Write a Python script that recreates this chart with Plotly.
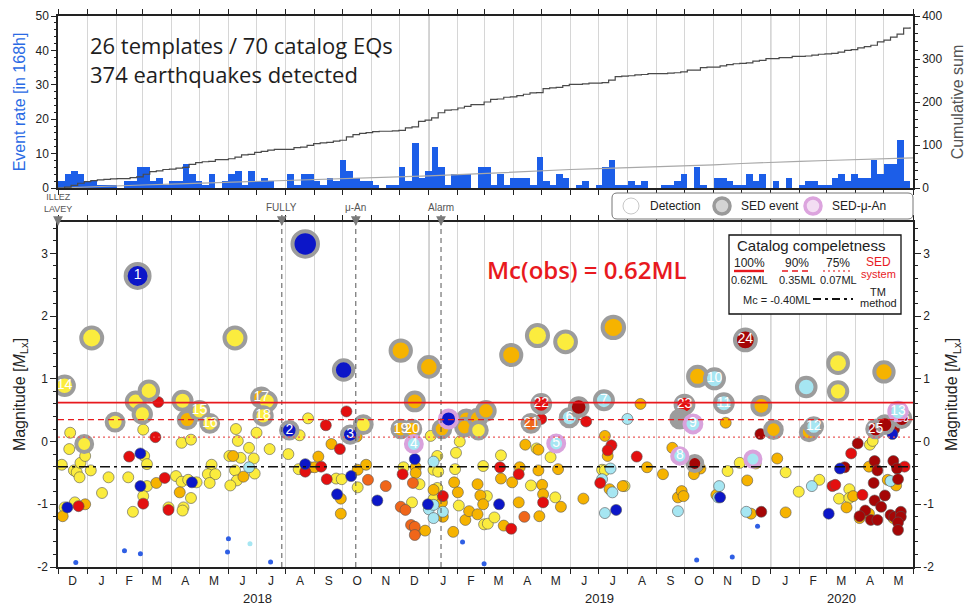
import pandas as pd
import plotly.graph_objects as go

START, END = "2017-12-01", "2020-06-01"

# ---------------------------------------------------------------- data
n_templates = 26

# detections per 168 h bin, bins starting 2017-12-01
weekly_rate = [2, 4, 5, 4, 2, 2, 1, 1, 1, 0,
               2, 2, 6, 6, 2, 3, 1, 2, 2, 7,
               4, 2, 1, 4, 0, 2, 4, 5, 1, 5,
               2, 3, 2, 0, 0, 4, 1, 4, 4, 2,
               1, 3, 2, 8, 5, 3, 2, 2, 1, 0,
               1, 1, 6, 2, 13, 3, 5, 12, 6, 1,
               4, 4, 4, 0, 6, 6, 1, 4, 1, 3,
               3, 3, 1, 9, 2, 1, 4, 3, 0, 1,
               2, 0, 1, 6, 8, 1, 1, 2, 1, 2,
               0, 0, 1, 1, 2, 4, 0, 6, 1, 0,
               3, 3, 2, 1, 1, 4, 2, 4, 0, 2,
               0, 3, 0, 1, 2, 2, 1, 1, 3, 4,
               2, 4, 3, 3, 8, 4, 7, 7, 14, 2]

# cumulative number of catalog earthquakes at each month start (Dec 2017 .. Jun 2020)
catalog_cum = [0, 3, 5, 7, 9, 11, 13, 15, 17, 19, 21, 23, 25,
               28, 31, 34, 37, 40, 43, 45, 47, 49, 51, 54, 57,
               60, 62, 64, 66, 68, 70]

# catalog completeness (SED system) and template-matching Mc
mc_sed = [0.62, 0.35, 0.07]
mc_sed_pct = ["100%", "90%", "75%"]
mc_tm = -0.40

event_names = ["ILLEZ<br>LAVEY", "FULLY", "μ-An", "Alarm"]
event_dates = ["2017-12-01", "2018-07-28", "2018-10-15", "2019-01-14"]

# template-matching detections (date, magnitude), grouped by colour
det_yellow = [
    ("2017-12-14", 0.14), ("2017-12-13", -0.12), ("2017-12-05", -0.37), ("2017-12-18", -0.46),
    ("2017-12-21", -0.49), ("2017-12-24", -0.57), ("2017-12-25", -0.34), ("2017-12-30", -0.23),
    ("2018-01-05", -0.46), ("2017-12-08", -1.05), ("2017-12-19", -0.97), ("2018-01-17", -0.82),
    ("2018-01-24", -0.57), ("2018-02-14", -0.57), ("2018-03-03", -0.23), ("2018-03-06", -0.36),
    ("2018-03-06", -0.71), ("2018-03-02", -0.87), ("2018-02-19", -1.12), ("2018-03-02", 0.19),
    ("2018-03-29", -1.05), ("2018-04-06", -0.55), ("2018-04-12", -0.64), ("2018-04-12", -0.02),
    ("2018-04-22", 0.03), ("2018-04-14", -1.05), ("2018-04-13", -1.10), ("2018-04-22", -0.90),
    ("2018-04-28", -0.65), ("2018-04-19", -0.61), ("2018-05-14", -0.37), ("2018-05-10", -0.52),
    ("2018-05-18", -0.52), ("2018-05-12", -0.66), ("2018-06-09", 0.20), ("2018-06-11", 0.01),
    ("2018-06-02", -0.23), ("2018-06-14", -0.26), ("2018-06-23", -0.10), ("2018-06-28", -0.27),
    ("2018-06-08", -0.46), ("2018-06-10", -0.62), ("2018-06-03", -0.70), ("2018-06-29", -0.51),
    ("2018-07-01", 0.14), ("2018-07-15", -0.12), ("2018-08-04", -0.20), ("2018-08-16", 0.10),
    ("2018-08-25", 0.37), ("2018-08-15", -0.44), ("2018-09-24", -0.59), ("2018-09-30", -0.60),
    ("2018-10-17", -0.73), ("2018-12-05", -0.41), ("2018-12-22", -0.68), ("2018-12-14", -0.97),
    ("2019-01-10", -0.23), ("2019-01-06", -0.45), ("2019-01-11", -0.48), ("2019-01-10", -0.74),
    ("2019-01-06", -0.92), ("2019-01-03", 0.09), ("2019-02-03", 0.00), ("2019-01-30", -0.18),
    ("2019-01-29", -0.44), ("2019-02-02", -1.02), ("2019-03-04", -0.87), ("2019-03-01", -1.32),
    ("2019-03-05", -1.31), ("2019-02-28", -0.39), ("2019-03-19", -0.22), ("2019-03-12", -1.21),
    ("2019-04-20", -0.70), ("2019-04-26", -0.11), ("2019-05-11", -0.25), ("2019-05-16", -0.89),
    ("2019-07-05", -0.45), ("2019-07-08", -0.46), ("2019-07-29", -0.71), ("2019-11-16", -0.47),
    ("2019-11-29", -0.34), ("2019-12-16", -0.35), ("2020-01-17", -0.49), ("2020-01-31", -0.80),
    ("2020-02-22", -0.61), ("2020-03-25", -0.76), ("2020-03-14", -0.91), ("2020-03-25", -0.90),
    ("2020-04-16", -0.05), ("2020-04-19", 0.01),
]
det_orange = [
    ("2017-12-06", -1.19), ("2017-12-30", -1.00), ("2018-03-16", -0.66), ("2018-04-10", -0.81),
    ("2018-06-06", -0.23), ("2018-06-17", -0.56), ("2018-08-27", -0.41), ("2018-09-01", -0.41),
    ("2018-09-05", -0.24), ("2018-09-19", -0.04), ("2018-09-29", -0.91), ("2018-09-29", -1.15),
    ("2018-10-16", 0.08), ("2018-10-17", -0.45), ("2018-10-26", -0.37), ("2018-12-18", -0.41),
    ("2018-12-18", -0.50), ("2018-12-18", -1.45), ("2018-12-28", -1.42), ("2019-01-06", -0.77),
    ("2019-01-15", -0.97), ("2019-01-16", -1.20), ("2019-01-28", -0.65), ("2019-02-01", -0.81),
    ("2019-01-27", -1.44), ("2019-02-09", -1.25), ("2019-02-13", -1.11), ("2019-02-22", -0.68),
    ("2019-02-25", -0.86), ("2019-02-28", -1.00), ("2019-02-22", -1.16), ("2019-03-19", -0.59),
    ("2019-03-31", -0.65), ("2019-03-22", -1.34), ("2019-04-08", -0.41), ("2019-04-07", -0.97),
    ("2019-04-14", -0.05), ("2019-04-28", -0.13), ("2019-04-28", -0.46), ("2019-05-02", -0.69),
    ("2019-05-03", -0.84), ("2019-04-29", -1.19), ("2019-05-19", -0.44), ("2019-05-22", -1.04),
    ("2019-06-15", -0.91), ("2019-07-08", 0.09), ("2019-07-11", -0.23), ("2019-07-13", -0.76),
    ("2019-07-27", -0.71), ("2019-08-15", 0.60), ("2019-08-22", -0.41), ("2019-09-08", -0.52),
    ("2019-09-18", -0.10), ("2019-09-24", -0.89), ("2019-09-28", -0.79), ("2019-09-30", -0.87),
    ("2019-10-18", -0.43), ("2019-10-15", -0.40), ("2019-10-11", -0.52), ("2019-11-14", 0.30),
    ("2019-11-04", -0.85), ("2019-12-07", -0.62), ("2019-12-11", -1.15), ("2020-01-08", -0.27),
    ("2020-01-17", -1.13), ("2020-03-29", -0.87), ("2020-03-22", -1.05), ("2020-04-15", -1.15),
    ("2020-04-05", -1.22), ("2020-04-15", -0.40), ("2020-05-05", -0.61), ("2020-05-14", -0.70),
    ("2020-05-11", -1.22),
]
det_orangered = [
    ("2018-10-28", -0.61), ("2018-11-16", -0.71), ("2018-12-15", -0.66), ("2018-12-02", -1.04),
    ("2018-12-07", -1.09), ("2018-12-13", -1.33), ("2018-12-17", -1.36), ("2018-12-17", -1.49),
    ("2019-04-13", -1.20),
]
det_red = [
    ("2017-12-23", -1.03), ("2018-02-15", -0.24), ("2018-03-02", -0.99), ("2018-03-15", 0.07),
    ("2018-03-18", 0.63), ("2018-03-25", -0.58), ("2018-03-29", -1.09), ("2018-09-13", 0.26),
    ("2018-08-22", -0.48), ("2018-09-08", -0.40), ("2018-09-14", -0.60), ("2018-09-28", -0.12),
    ("2018-10-05", 0.48), ("2018-12-04", -0.52), ("2019-01-16", -0.87), ("2019-03-18", -0.41),
    ("2019-03-30", -1.39), ("2019-04-07", -0.52), ("2019-05-01", 0.36), ("2019-05-03", -0.97),
    ("2019-06-18", 0.32), ("2019-07-15", -0.06), ("2019-07-11", -0.14), ("2019-07-03", -0.66),
    ("2019-08-11", -0.24), ("2020-03-07", -0.71), ("2020-03-10", -0.69), ("2020-03-27", -0.19),
    ("2020-04-08", -0.85), ("2020-05-23", -0.40),
]
det_darkred = [
    ("2019-12-22", -1.12), ("2019-12-21", 0.12), ("2020-03-20", -0.41), ("2020-04-03", -0.03),
    ("2020-04-11", -1.10), ("2020-04-17", -1.25), ("2020-04-24", -1.25), ("2020-04-05", -1.19),
    ("2020-04-21", -0.94), ("2020-04-28", -1.04), ("2020-05-02", -0.86), ("2020-04-21", -0.31),
    ("2020-04-24", -0.46), ("2020-04-20", -0.66), ("2020-05-12", 0.20), ("2020-05-11", -0.31),
    ("2020-05-15", -0.43), ("2020-05-16", -0.60), ("2020-05-08", -1.17), ("2020-05-12", -1.20),
    ("2020-05-19", -1.12), ("2020-05-19", -1.20), ("2020-05-16", -1.29), ("2020-05-16", -1.41),
]
det_blue = [
    ("2017-12-11", -1.05), ("2018-02-27", -0.19), ("2018-02-27", -0.71), ("2018-04-23", -0.65),
    ("2018-08-22", -0.36), ("2018-09-25", -0.84), ("2018-10-10", -0.55), ("2018-11-07", -0.94),
    ("2018-12-17", -0.28), ("2018-12-31", -1.00), ("2019-03-17", -1.00), ("2019-07-20", -1.09),
    ("2019-11-08", -0.89), ("2020-03-03", -1.15), ("2020-03-15", -0.43), ("2020-05-10", 0.12),
]
det_lightblue = [
    ("2018-06-23", -0.41), ("2019-01-06", -0.32), ("2019-01-01", -1.08), ("2019-01-06", -1.01),
    ("2019-01-16", -1.12), ("2019-01-06", -1.22), ("2019-07-14", -0.43), ("2019-07-05", -0.60),
    ("2019-07-16", -0.81), ("2019-07-08", -1.14), ("2019-08-01", 0.36), ("2019-09-24", -1.11),
    ("2019-11-07", -0.71), ("2019-11-06", -0.89), ("2019-12-06", -1.12), ("2020-02-14", -0.71),
    ("2020-05-08", -0.63),
]
det_small = [
    ("2017-12-20", -1.93), ("2018-02-10", -1.74), ("2018-02-27", -1.79), ("2018-06-01", -1.55),
    ("2018-05-31", -1.76), ("2018-07-16", -1.92), ("2019-02-06", -1.60), ("2019-03-01", -1.95),
    ("2019-10-14", -1.89), ("2019-11-21", -1.84), ("2019-12-18", -1.35),
]
det_small_lightblue = [("2018-06-24", -1.63)]

# catalog (SED) events used as templates / detected: (date, magnitude, colour, template id)
sed_events = [
    ("2017-12-08", 0.89, "yellow", "14"), ("2018-01-06", 1.65, "yellow", ""),
    ("2017-12-29", -0.04, "yellow", ""), ("2018-01-31", 0.31, "yellow", ""),
    ("2018-02-24", 2.64, "blue", "1"), ("2018-02-22", 0.64, "yellow", ""),
    ("2018-03-01", 0.44, "yellow", ""), ("2018-03-08", 0.81, "yellow", ""),
    ("2018-04-13", 0.65, "yellow", ""), ("2018-04-18", 0.35, "orange", ""),
    ("2018-05-01", 0.49, "yellow", "15"), ("2018-05-12", 0.29, "yellow", "16"),
    ("2018-06-08", 1.65, "yellow", ""), ("2018-07-06", 0.70, "orange", "17"),
    ("2018-07-12", 0.64, "yellow", ""), ("2018-07-08", 0.41, "yellow", "18"),
    ("2018-08-05", 0.18, "blue", "2"), ("2018-08-22", 3.15, "blue", ""),
    ("2018-10-02", 1.14, "blue", ""), ("2018-10-23", 0.27, "yellow", ""),
    ("2018-10-09", 0.11, "blue", "3"), ("2018-12-02", 1.45, "orange", ""),
    ("2019-01-01", 1.19, "orange", ""), ("2018-12-17", 0.64, "orange", ""),
    ("2018-12-02", 0.20, "orange", "19"), ("2018-12-14", 0.20, "orange", "20"),
    ("2019-01-15", 0.20, "orange", ""), ("2019-02-10", 0.36, "orange", ""),
    ("2019-02-08", 0.23, "orange", ""), ("2019-02-22", 0.37, "orange", ""),
    ("2019-03-03", 0.49, "orange", ""), ("2019-02-23", 0.18, "yellow", ""),
    ("2019-03-30", 1.38, "orange", ""), ("2019-04-27", 1.69, "yellow", ""),
    ("2019-05-27", 1.59, "yellow", ""), ("2019-07-17", 1.82, "orange", ""),
    ("2019-04-20", 0.29, "orangered", "21"), ("2019-05-01", 0.60, "red", "22"),
    ("2019-05-31", 0.38, "lightblue", "6"), ("2019-06-10", 0.55, "darkred", ""),
    ("2019-07-07", 0.66, "lightblue", "7"), ("2019-10-12", -0.35, "darkred", ""),
    ("2019-10-15", 1.04, "orange", ""), ("2019-11-02", 1.00, "lightblue", "10"),
    ("2019-10-01", 0.59, "red", "23"), ("2019-09-26", 0.36, "grey", ""),
    ("2019-11-12", 0.61, "lightblue", "11"), ("2019-12-05", 1.62, "darkred", "24"),
    ("2019-12-22", 0.57, "orange", ""), ("2020-01-04", 0.19, "orange", ""),
    ("2020-02-08", 0.87, "lightblue", ""), ("2020-03-13", 1.25, "yellow", ""),
    ("2020-03-13", 0.80, "yellow", ""), ("2020-05-01", 1.11, "orange", ""),
    ("2020-02-11", 0.15, "orange", ""), ("2020-02-16", 0.24, "lightblue", "12"),
    ("2020-04-22", 0.20, "darkred", "25"), ("2020-05-02", 0.27, "darkred", ""),
    ("2020-05-20", 0.37, "darkred", "26"),
]
# SED events located by the micro-array (μ-An)
muan_events = [
    ("2018-12-16", -0.04, "lightblue", "4"), ("2019-01-22", 0.36, "blue", ""),
    ("2019-05-17", -0.03, "lightblue", "5"), ("2019-09-26", -0.23, "lightblue", "8"),
    ("2019-10-10", 0.28, "lightblue", "9"), ("2019-12-13", -0.28, "lightblue", ""),
    ("2020-05-16", 0.48, "lightblue", "13"),
]

# ---------------------------------------------------------------- styles
COL = {
    "yellow": "#fbec3e", "orange": "#f6b300", "orangered": "#f0661a", "red": "#e30f0f",
    "darkred": "#a50606", "blue": "#0c16c8", "lightblue": "#a6e6f2", "grey": "#9c9c9c",
    "small": "#2f5fe4",
}
BAR_BLUE = "#1c5ee8"
RED = "#e8191e"
FONT = "Liberation Sans"

W, H = 966, 606
L, R, T, B = 58, 53, 16, 39
PW, PH = W - L - R, H - T - B


def px(x):
    return (x - L) / PW


def py(y):
    return (H - B - y) / PH


top_dom = [py(188), 1.0]
bot_dom = [0.0, py(222)]

month_starts = pd.date_range(START, END, freq="MS")
month_mids = [a + (b - a) / 2 for a, b in zip(month_starts[:-1], month_starts[1:])]
month_letters = ["JFMAMJJASOND"[d.month - 1] for d in month_starts[:-1]]

week_starts = pd.Timestamp(START) + pd.to_timedelta([7 * i for i in range(len(weekly_rate))], unit="D")
week_ends = week_starts + pd.Timedelta(days=7)
cum_detect = pd.Series(weekly_rate).cumsum().tolist()

fig = go.Figure()

# ---------------------------------------------------------------- top panel
fig.add_trace(go.Bar(
    x=week_starts, y=weekly_rate, width=7 * 86400000, offset=0,
    marker=dict(color=BAR_BLUE, line=dict(width=0)), xaxis="x", yaxis="y",
    showlegend=False, hoverinfo="skip"))
fig.add_trace(go.Scatter(
    x=list(month_starts), y=catalog_cum, mode="lines",
    line=dict(color="#a8a8a8", width=1.2), xaxis="x", yaxis="y4",
    showlegend=False, hoverinfo="skip"))
fig.add_trace(go.Scatter(
    x=[pd.Timestamp(START)] + list(week_ends), y=[0] + cum_detect, mode="lines",
    line=dict(color="#4a4a4a", width=1.2, shape="hv"), xaxis="x", yaxis="y4",
    showlegend=False, hoverinfo="skip"))


# ---------------------------------------------------------------- bottom panel: detections
def add_group(points, color, size, line_w=0.6, line_c="#555555"):
    fig.add_trace(go.Scatter(
        x=[p[0] for p in points], y=[p[1] for p in points], mode="markers",
        marker=dict(color=color, size=size, opacity=1, line=dict(width=line_w, color=line_c)),
        xaxis="x2", yaxis="y2", showlegend=False, hoverinfo="skip"))


add_group(det_small, COL["small"], 5, 0)
add_group(det_small_lightblue, COL["lightblue"], 5, 0)
add_group(det_yellow, COL["yellow"], 11)
add_group(det_orange, COL["orange"], 11)
add_group(det_orangered, COL["orangered"], 11)
add_group(det_lightblue, COL["lightblue"], 11)
add_group(det_red, COL["red"], 11)
add_group(det_darkred, COL["darkred"], 11)
add_group(det_blue, COL["blue"], 11)


def add_catalog(events, ring):
    fig.add_trace(go.Scatter(
        x=[e[0] for e in events], y=[e[1] for e in events], mode="markers+text",
        text=[e[3] for e in events], textposition="middle center",
        textfont=dict(color="white", size=14, family=FONT),
        marker=dict(color=[COL[e[2]] for e in events], opacity=1,
                    size=[16 + 3 * e[1] for e in events],
                    line=dict(width=4, color=ring)),
        xaxis="x2", yaxis="y2", showlegend=False, hoverinfo="skip"))


add_catalog(sed_events, "#9c9c9c")
add_catalog(muan_events, "#d9a2dc")

# empty traces so the overlay axes are drawn
fig.add_trace(go.Scatter(x=[None], y=[None], xaxis="x3", yaxis="y2", showlegend=False))
fig.add_trace(go.Scatter(x=[None], y=[None], xaxis="x2", yaxis="y3", showlegend=False))

# ---------------------------------------------------------------- shapes
shapes = []
for yr in ["2019-01-01", "2020-01-01"]:
    for yref in ["y domain", "y2 domain"]:
        shapes.append(dict(type="line", xref="x", yref=yref, x0=yr, x1=yr, y0=0, y1=1,
                           line=dict(color="#a3a3a3", width=1.3), layer="below"))

for d in event_dates[1:]:
    shapes.append(dict(type="line", xref="x2", yref="y2 domain", x0=d, x1=d, y0=0, y1=1,
                       line=dict(color="#555555", width=1, dash="5px,4px")))

mc_styles = [dict(color=RED, width=1.8),
             dict(color=RED, width=1.3, dash="6px,4px"),
             dict(color="#ec5a5a", width=1.1, dash="2px,3px")]
for lvl, st in zip(mc_sed, mc_styles):
    shapes.append(dict(type="line", xref="x2 domain", yref="y2", x0=0, x1=1, y0=lvl, y1=lvl, line=st))
shapes.append(dict(type="line", xref="x2 domain", yref="y2", x0=0, x1=1, y0=mc_tm, y1=mc_tm,
                   line=dict(color="#111111", width=1.5, dash="10px,4px,3px,4px")))

# catalog completeness box
shapes.append(dict(type="rect", xref="paper", yref="paper", x0=px(729), x1=px(901),
                   y0=py(314), y1=py(235), fillcolor="white", line=dict(color="#111", width=1.3)))
box_cols = [749, 797, 838]
for cx, st in zip(box_cols, mc_styles):
    s = dict(st)
    s["width"] = 2.4 if "dash" not in st else 1.6
    shapes.append(dict(type="line", xref="paper", yref="paper", x0=px(cx - 15), x1=px(cx + 15),
                       y0=py(271), y1=py(271), line=s))
shapes.append(dict(type="line", xref="paper", yref="paper", x0=px(813), x1=px(853),
                   y0=py(299), y1=py(299), line=dict(color="#111", width=2, dash="8px,4px,3px,4px")))

# legend box with rounded corners
x0, x1, y0, y1, r = 612, 913, 193, 219, 5
path = (f"M {px(x0 + r)},{py(y0)} L {px(x1 - r)},{py(y0)} Q {px(x1)},{py(y0)} {px(x1)},{py(y0 + r)} "
        f"L {px(x1)},{py(y1 - r)} Q {px(x1)},{py(y1)} {px(x1 - r)},{py(y1)} "
        f"L {px(x0 + r)},{py(y1)} Q {px(x0)},{py(y1)} {px(x0)},{py(y1 - r)} "
        f"L {px(x0)},{py(y0 + r)} Q {px(x0)},{py(y0)} {px(x0 + r)},{py(y0)} Z")
shapes.append(dict(type="path", xref="paper", yref="paper", path=path, fillcolor="white",
                   line=dict(color="#777", width=1)))
legend_items = [("Detection", 631, "white", "#c8c8c8", 1),
                ("SED event", 722, "#d4d4d4", "#9a9a9a", 3.5),
                ("SED-μ-An", 813, "#f3def3", "#dca4de", 3.5)]
for _, cx, fc, lc, lw in legend_items:
    shapes.append(dict(type="circle", xref="paper", yref="paper",
                       x0=px(cx - 8), x1=px(cx + 8), y0=py(214), y1=py(198),
                       fillcolor=fc, line=dict(color=lc, width=lw)))

# ---------------------------------------------------------------- annotations
ann = []


def text(x, y, s, size=12, color="#222", anchor="center", family=FONT, weight=None, **kw):
    f = dict(size=size, color=color, family=family)
    if weight:
        f["weight"] = weight
    ann.append(dict(x=px(x), y=py(y), xref="paper", yref="paper", text=s, showarrow=False,
                    xanchor=anchor, yanchor="middle", font=f, **kw))


text(88, 60, f"{n_templates} templates / {catalog_cum[-1]} catalog EQs<br>"
             f"{sum(weekly_rate)} earthquakes detected",
     size=22, color="#1e1e1e", anchor="left", family="Open Sans", align="left")
text(587, 269, f"Mc(obs) = {mc_sed[0]:.2f}ML", size=24, color=RED, family="Open Sans", weight=600)

for name, cx, *_ in legend_items:
    text(cx + 17, 206, name, size=12, anchor="left")

# completeness box text
text(735, 246, "Catalog compeletness", size=15, anchor="left")
for cx, pct, lvl in zip(box_cols, mc_sed_pct, mc_sed):
    text(cx, 263, pct, size=12)
    text(cx, 280, f"{lvl:.2f}ML", size=11)
text(878, 262, "SED", size=12, color=RED)
text(878, 274, "system", size=11, color=RED)
text(777, 300, f"Mc = {mc_tm:.2f}ML", size=11)
text(878, 292, "TM", size=11)
text(878, 303, "method", size=11)

# event markers above the magnitude panel
for name, d in zip(event_names, event_dates):
    two = "<br>" in name
    ann.append(dict(x=d, y=py(226), xref="x", yref="paper", text=name, showarrow=True,
                    ax=0, ay=-23 if two else -19, arrowhead=2, arrowsize=1.3, arrowwidth=1.5,
                    arrowcolor="#7a7a7a", standoff=0, startstandoff=1,
                    font=dict(size=9 if two else 10, color="#555", family=FONT)))

# year labels
for yr in [2018, 2019, 2020]:
    a = max(pd.Timestamp(f"{yr}-01-01"), pd.Timestamp(START))
    b = min(pd.Timestamp(f"{yr + 1}-01-01"), pd.Timestamp(END))
    ann.append(dict(x=a + (b - a) / 2, y=py(598), xref="x", yref="paper", text=str(yr),
                    showarrow=False, yanchor="middle", font=dict(size=13, color="#222", family=FONT)))

# ---------------------------------------------------------------- axes
xcommon = dict(type="date", range=[START, END], tickmode="array", tickvals=list(month_starts),
               showticklabels=False, ticks="outside", ticklen=5, tickwidth=1, tickcolor="#222",
               showline=True, linecolor="#222", linewidth=1.5, mirror="ticks",
               showgrid=True, gridcolor="#d6d6d6", gridwidth=1, zeroline=False)
yfont = dict(size=12, color="#222", family=FONT)

mag_ticks = list(range(-2, 4))
mag_title = "Magnitude [<i>M</i><sub>Lx</sub>]"


def mag_axis(**kw):
    return dict(range=[-2, 3.5], tickmode="array", tickvals=mag_ticks,
                ticktext=[str(v) for v in mag_ticks], ticks="outside", ticklen=6, tickcolor="#222",
                minor=dict(dtick=0.2, ticklen=3, ticks="outside", tickcolor="#222"),
                showline=True, linecolor="#222", linewidth=1.5, showgrid=False, zeroline=False,
                tickfont=yfont, **kw)


fig.update_layout(
    width=W, height=H, margin=dict(l=L, r=R, t=T, b=B, autoexpand=False),
    paper_bgcolor="white", plot_bgcolor="white", bargap=0,
    font=dict(family=FONT, color="#222"),
    xaxis=dict(domain=[0, 1], anchor="y", **xcommon),
    xaxis2=dict(domain=[0, 1], anchor="y2", matches="x", **xcommon),
    xaxis3=dict(overlaying="x2", anchor="y2", type="date", range=[START, END], tickmode="array",
                tickvals=month_mids, ticktext=month_letters, ticks="outside", ticklen=3,
                tickcolor="rgba(0,0,0,0)", showgrid=False,
                showline=False, zeroline=False, tickfont=dict(size=12, color="#222", family=FONT)),
    yaxis=dict(domain=top_dom, anchor="x", range=[0, 50], tickmode="array",
               tickvals=[0, 10, 20, 30, 40, 50], ticks="outside", ticklen=5, tickcolor="#222",
               minor=dict(dtick=2, ticklen=2, ticks="outside", tickcolor="#222"),
               showline=True, linecolor="#222", linewidth=1.5, showgrid=False, zeroline=False,
               tickfont=yfont,
               title=dict(text="Event rate [in 168h]", standoff=6,
                          font=dict(size=16, color="#2a6ae4", family=FONT))),
    yaxis4=dict(overlaying="y", side="right", anchor="x", range=[0, 400], tickmode="array",
                tickvals=[0, 100, 200, 300, 400], ticks="outside", ticklen=5, tickcolor="#222",
                minor=dict(dtick=20, ticklen=3, ticks="outside", tickcolor="#222"),
                showline=True, linecolor="#222", linewidth=1.5, showgrid=False, zeroline=False,
                tickfont=yfont,
                title=dict(text="Cumulative sum", standoff=16,
                           font=dict(size=16, color="#555", family=FONT))),
    yaxis2=dict(domain=bot_dom, anchor="x2",
                title=dict(text=mag_title, standoff=8, font=dict(size=16, color="#222", family=FONT)),
                **mag_axis()),
    yaxis3=dict(overlaying="y2", side="right", anchor="x2",
                title=dict(text=mag_title, standoff=13, font=dict(size=16, color="#222", family=FONT)),
                **mag_axis()),
    shapes=shapes,
    annotations=ann,
)

fig.write_html("out.html")
